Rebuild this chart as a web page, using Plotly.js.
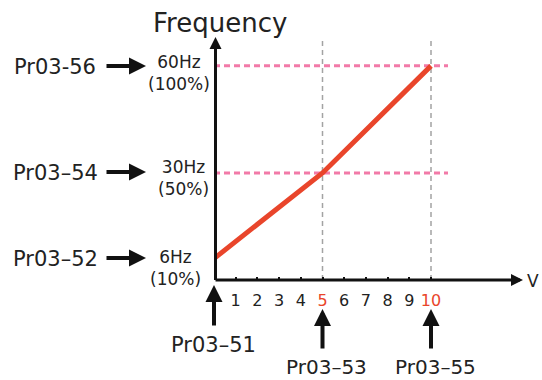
<!DOCTYPE html>
<html>
<head>
<meta charset="utf-8">
<script src="https://cdn.plot.ly/plotly-3.0.1.min.js"></script>
<style>html,body{margin:0;padding:0;background:#fff;}#chart{width:542px;height:380px;}</style>
</head>
<body>
<div id="chart"></div>
<script>
// ---- data ----
const voltage = [0, 5, 10];             // V breakpoints
const frequency = [6, 30, 60];          // Hz at breakpoints
const percent = [10, 50, 100];          // % of max frequency
const freqParams = ['Pr03\u201352', 'Pr03\u201354', 'Pr03-56'];
const voltParams = ['Pr03\u201351', 'Pr03\u201353', 'Pr03\u201355'];
const tickValues = [1, 2, 3, 4, 5, 6, 7, 8, 9, 10];
const highlightTicks = [5, 10];

// ---- layout geometry (pixels) ----
const W = 542, H = 380;
const L = 214, R = 19, T = 37, B = 100;
const PW = W - L - R, PH = H - T - B;
const pxPerV = 21.7, pxPerHz = 3.569;
const xMax = PW / pxPerV;
const yMax = PH / pxPerHz;
const X = px => (px - L) / pxPerV;      // pixel -> data
const Y = py => (H - B - py) / pxPerHz;
const PX = px => (px - L) / PW;         // pixel -> paper
const PY = py => (H - B - py) / PH;

const FONT = 'DejaVu Sans, Liberation Sans, Arial, sans-serif';
const RED = '#e9452b', PINK = '#f27aa8', GRAY = '#a3a3a3';

const tickText = tickValues.map(v => highlightTicks.includes(v)
  ? '<span style="color:' + RED + '">' + v + '</span>' : String(v));

const traces = [{
  x: voltage, y: frequency, mode: 'lines', type: 'scatter',
  line: {color: RED, width: 5}, hoverinfo: 'skip', cliponaxis: false
}];

const shapes = [];
// horizontal frequency guides
frequency.forEach((f, i) => {
  if (i === 0) {
    shapes.push({type: 'line', xref: 'x', yref: 'y', x0: X(196), x1: 0, y0: f, y1: f,
      line: {color: PINK, width: 1.5, dash: '4px,3px'}, layer: 'below'});
  } else {
    shapes.push({type: 'line', xref: 'x', yref: 'y', x0: 0, x1: X(448), y0: f, y1: f,
      line: {color: PINK, width: 3, dash: '6px,4px'}, layer: 'below'});
  }
});
// vertical voltage guides
voltage.slice(1).forEach(v => {
  shapes.push({type: 'line', xref: 'x', yref: 'y', x0: v, x1: v, y0: 0, y1: Y(38),
    line: {color: GRAY, width: 1.5, dash: '5px,4px'}, layer: 'below'});
});

const ann = [];
function arrow(xt, yt, xs, ys, w, s) {
  ann.push({xref: 'paper', yref: 'paper', x: PX(xt), y: PY(yt), ax: xs - xt, ay: ys - yt,
    text: '', showarrow: true, arrowhead: 2, arrowwidth: w, arrowsize: s, arrowcolor: '#111', standoff: 0});
}
function label(text, px, py, size, yanchor) {
  ann.push({xref: 'paper', yref: 'paper', x: PX(px), y: PY(py), text: text, showarrow: false,
    xanchor: 'center', yanchor: yanchor || 'middle', borderpad: 0,
    font: {family: FONT, size: size, color: '#222'}});
}
// axes with arrowheads
arrow(523, 280, 214, 280, 3, 0.8);
arrow(215.5, 37, 215.5, 281.5, 3, 0.8);
label('Frequency', 220, 23, 26);
label('V', 533, 281, 17);

// frequency side labels
const leftY = [258, 172, 66];
const hzY = [268, 178, 73];
const hzX = [175, 183, 179];
frequency.forEach((f, i) => {
  label(freqParams[i], 55, leftY[i] + 1, 21);
  arrow(146, leftY[i], 105, leftY[i], 4, 0.85);
  ann.push({xref: 'paper', yref: 'paper', x: PX(hzX[i]), y: PY(hzY[i]), text: f + 'Hz<br>(' + percent[i] + '%)',
    showarrow: false, xanchor: 'center', yanchor: 'middle', align: 'center', borderpad: 0,
    font: {family: FONT, size: 17, color: '#222'}});
});

// voltage side labels
voltage.forEach((v, i) => {
  const xp = L + v * pxPerV;
  if (i === 0) {
    arrow(xp, 285, xp, 327, 4, 0.85);
    label(voltParams[i], 213, 345, 21);
  } else {
    arrow(xp, 309, xp, 350, 4, 0.85);
    label(voltParams[i], xp + 4, 380, 20, 'bottom');
  }
});

const layout = {
  width: W, height: H,
  margin: {l: L, r: R, t: T, b: B, pad: 0},
  paper_bgcolor: '#ffffff', plot_bgcolor: 'rgba(0,0,0,0)',
  showlegend: false,
  xaxis: {range: [0, xMax], showgrid: false, zeroline: false, showline: false,
    tickmode: 'array', tickvals: tickValues, ticktext: tickText,
    ticks: 'inside', ticklen: 3, tickwidth: 2, tickcolor: '#111',
    ticklabelstandoff: 9,
    tickfont: {family: FONT, size: 16, color: '#222'}, fixedrange: true},
  yaxis: {range: [0, yMax], showgrid: false, zeroline: false, showline: false,
    showticklabels: false, ticks: '', fixedrange: true},
  shapes: shapes,
  annotations: ann
};

Plotly.newPlot('chart', traces, layout, {displayModeBar: false, staticPlot: true});
</script>
</body>
</html>
